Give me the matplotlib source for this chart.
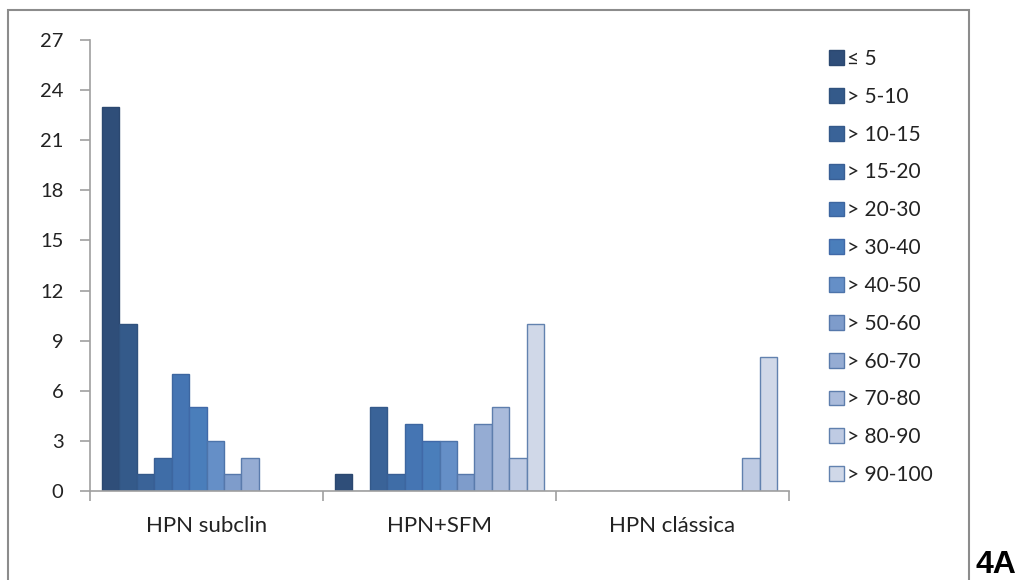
import matplotlib.pyplot as plt
from matplotlib.patches import Rectangle
import numpy as np

plt.rcParams['font.family'] = ['Lato', 'DejaVu Sans']

groups = ['HPN subclin', 'HPN+SFM', 'HPN clássica']
classes = ['≤ 5', '> 5-10', '> 10-15', '> 15-20', '> 20-30', '> 30-40',
           '> 40-50', '> 50-60', '> 60-70', '> 70-80', '> 80-90', '> 90-100']

# counts per class, one list per group
subclin = [23, 10, 1, 2, 7, 5, 3, 1, 2, 0, 0, 0]
sfm = [1, 0, 5, 1, 4, 3, 3, 1, 4, 5, 2, 10]
classica = [0, 0, 0, 0, 0, 0, 0, 0, 0, 0, 2, 8]

colors = ['#2F4E79', '#345A8A', '#3A6398', '#3F6DA7', '#4575B3', '#4A7EBB',
          '#658FC7', '#7E9CCB', '#95ACD3', '#AABBDB', '#BFCBE3', '#D0D8E8']
edges = ['#2B4870', '#30527E', '#34598A', '#395F95', '#3D66A0', '#4069A8',
         '#4D74AA', '#5678AB', '#5A7BAC', '#5E7EAD', '#6080AE', '#6282AF']

data = np.array([subclin, sfm, classica])

fig = plt.figure(figsize=(10.22, 5.8), dpi=100)
ax = fig.add_axes([90/1022, 1-491/580, (789-90)/1022, (491-40)/580])

w = 0.075
x0 = np.arange(len(groups)) + 0.05
handles = []
for i, lab in enumerate(classes):
    h = ax.bar(x0 + i*w, data[:, i], width=w, align='edge', color=colors[i],
               edgecolor=edges[i], linewidth=1.0, label=lab)
    handles.append(h)

ax.set_xlim(0, 3)
ax.set_ylim(0, 27)
ax.set_yticks(np.arange(0, 28, 3))
ax.set_xticks([0, 1, 2, 3])
ax.set_xticklabels([])
ax.set_xticks([0.5, 1.5, 2.5], minor=True)
ax.set_xticklabels(groups, minor=True)
ax.tick_params(axis='x', which='minor', length=0, pad=18, labelsize=16, colors='#222222')
ax.tick_params(axis='x', which='major', length=7, color='#A0A0A0', width=1.2)
ax.tick_params(axis='y', length=7, color='#A0A0A0', width=1.2, pad=12,
               labelsize=14.5, labelcolor='#222222')
for s in ['top', 'right']:
    ax.spines[s].set_visible(False)
for s in ['left', 'bottom']:
    ax.spines[s].set_color('#A0A0A0')
    ax.spines[s].set_linewidth(1.2)

leg = fig.legend(handles=handles, loc='upper left', bbox_to_anchor=(829/1022, 1-49/580),
                 frameon=False, fontsize=15, handlelength=0.72, handleheight=0.72,
                 handletextpad=0.15, labelspacing=0.855, borderpad=0, borderaxespad=0)
for t in leg.get_texts():
    t.set_color('#222222')

# outer chart frame (bottom edge runs off the image)
fig.patches.append(Rectangle((8/1022, -0.02), (969-8)/1022, 1-10/580+0.02,
                             transform=fig.transFigure, fill=False,
                             edgecolor='#8C8C8C', linewidth=1.5))
fig.text(975/1022, 0.0, '4A', fontsize=23, fontweight='bold',
         family='Liberation Sans', ha='left', va='bottom')

fig.savefig('out.png', dpi=100)
